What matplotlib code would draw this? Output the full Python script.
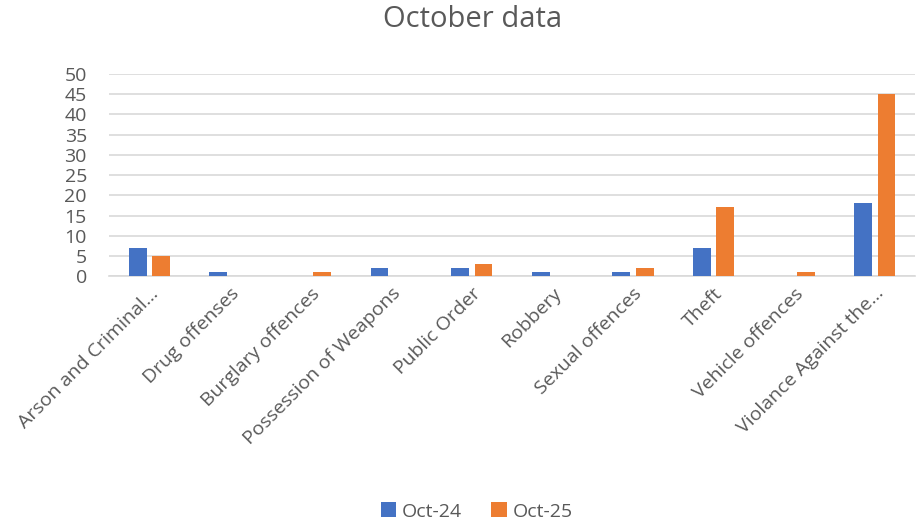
import numpy as np
import matplotlib.pyplot as plt

## ----- DATA ------ ##

categories = ["Arson and Criminal\u2026", "Drug offenses", "Burglary offences",
              "Possession of Weapons", "Public Order", "Robbery",
              "Sexual offences", "Theft", "Vehicle offences",
              "Violance Against the\u2026"]
oct_24 = [7, 1, 0, 2, 2, 1, 1, 7, 0, 18]
oct_25 = [5, 0, 1, 0, 3, 0, 2, 17, 1, 45]
series_names = ["Oct-24", "Oct-25"]
y_ticks = list(range(0, 55, 5))

## ----- PLOT ------ ##

plt.rcParams['font.family'] = ['Open Sans', 'DejaVu Sans']
grey = '#595959'

fig = plt.figure(figsize=(9.17, 5.25), dpi=100)
ax = fig.add_axes([0.119, 0.474, 0.879, 0.385])

x = np.arange(len(categories))
w = 0.22
ax.bar(x - 0.145, oct_24, w, color='#4472C4', label=series_names[0], zorder=3)
ax.bar(x + 0.145, oct_25, w, color='#ED7D31', label=series_names[1], zorder=3)

ax.set_xlim(-0.5, len(categories) - 0.5)
ax.set_ylim(0, 50)
ax.set_yticks(y_ticks)
ax.yaxis.grid(True, color='#d9d9d9', linewidth=1.2, zorder=0)
ax.set_axisbelow(True)
for s in ['top', 'right', 'left']:
    ax.spines[s].set_visible(False)
ax.spines['bottom'].set_color('#d9d9d9')
ax.spines['bottom'].set_linewidth(1.2)
ax.tick_params(length=0, colors=grey, labelsize=14)
ax.tick_params(axis='y', pad=16)
ax.tick_params(axis='x', pad=6)

ax.set_xticks(x)
ax.set_xticklabels(categories, rotation=45, ha='right', rotation_mode='anchor')

fig.suptitle("October data", x=0.515, y=0.99, fontsize=21, color=grey)

fig.legend(loc='lower center', ncol=2, frameon=False, fontsize=14,
           labelcolor=grey, handlelength=0.8, handleheight=0.8,
           handletextpad=0.3, columnspacing=1.5, bbox_to_anchor=(0.52, -0.025))

fig.savefig("out.png", dpi=100)
